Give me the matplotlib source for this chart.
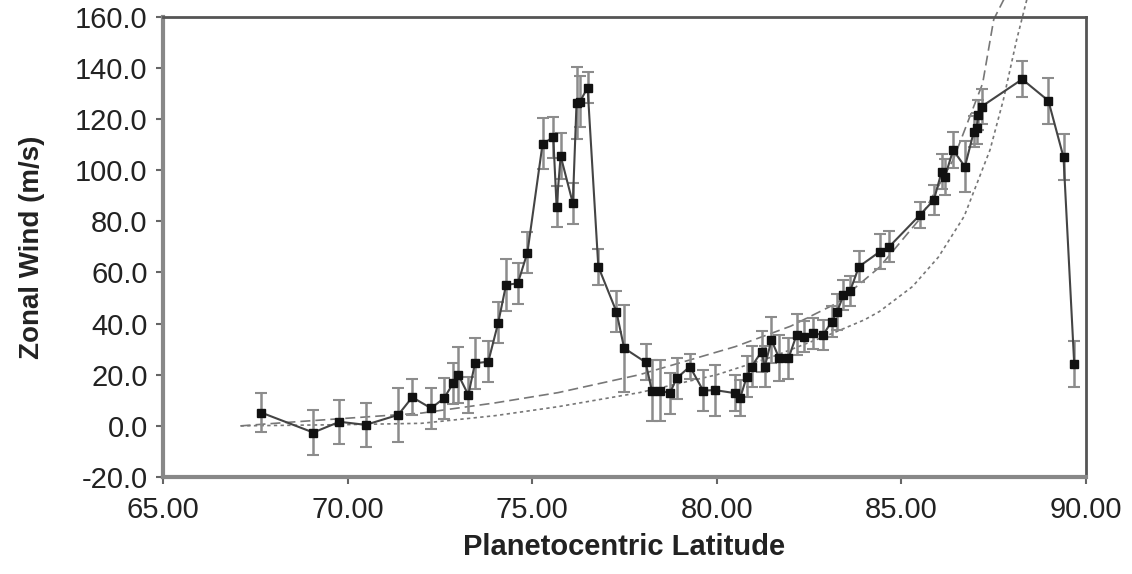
import numpy as np
import matplotlib.pyplot as plt

plt.rcParams['font.family'] = ['Liberation Sans', 'DejaVu Sans']

# measured zonal wind
lat = [67.66, 69.07, 69.78, 70.49, 71.37, 71.75, 72.26, 72.61, 72.86, 73.00,
       73.27, 73.45, 73.81, 74.08, 74.29, 74.61, 74.87, 75.28, 75.57, 75.66,
       75.77, 76.10, 76.20, 76.29, 76.50, 76.79, 77.28, 77.49, 78.07, 78.24,
       78.46, 78.73, 78.91, 79.27, 79.63, 79.95, 80.49, 80.63, 80.81, 80.94,
       81.21, 81.30, 81.48, 81.69, 81.94, 82.16, 82.36, 82.61, 82.88, 83.11,
       83.26, 83.43, 83.61, 83.85, 84.42, 84.67, 85.50, 85.88, 86.09, 86.18,
       86.40, 86.72, 86.96, 87.04, 87.08, 87.17, 88.27, 88.98, 89.39, 89.68]
wind = [5.2, -2.6, 1.6, 0.4, 4.3, 11.2, 6.9, 10.8, 16.7, 19.9,
        12.1, 24.5, 25.1, 40.4, 55.1, 55.8, 67.8, 110.3, 112.9, 85.8,
        105.6, 87.1, 126.2, 126.8, 132.3, 62.3, 44.7, 30.4, 24.9, 13.8,
        13.8, 12.8, 18.6, 23.2, 13.8, 14.0, 12.8, 10.8, 19.2, 23.2,
        29.0, 23.2, 33.6, 26.4, 26.4, 35.6, 34.9, 36.2, 35.6, 40.8,
        44.7, 51.2, 52.8, 62.3, 68.2, 70.1, 82.5, 88.4, 99.5, 97.5,
        107.9, 101.4, 115.1, 116.4, 121.6, 124.9, 135.6, 127.2, 105.1, 24.2]
err = [7.5, 8.8, 8.5, 8.5, 10.7, 7, 8, 8, 8, 11,
       7, 10, 8, 8, 10, 8, 8, 10, 8, 8,
       9, 8, 14, 10, 6, 7, 8, 17, 7, 12,
       12, 8, 8, 5, 8, 10, 7, 7, 8, 8,
       8, 8, 9, 9, 8, 8, 6, 6, 6, 6,
       7, 6, 6, 6, 7, 6, 5, 6, 7, 7,
       7, 10, 6, 6, 6, 7, 7, 9, 9, 9]

# model curves
dash_lat = [67.1, 68.5, 70.0, 72.0, 74.0, 75.7, 77.9, 79.2, 80.5, 82.0,
            83.25, 84.4, 85.5, 86.4, 87.2, 87.5, 87.78]
dash_val = [0, 1.5, 3, 5, 9, 13, 20, 25.5, 31, 39,
            48, 62, 81, 104, 134, 159, 167]
dot_lat = [67.1, 70.0, 72.0, 74.0, 75.7, 77.9, 80.0, 81.5, 83.1, 84.0,
           84.4, 85.3, 86.0, 86.7, 87.4, 87.76, 88.12, 88.4]
dot_val = [0, 0.5, 1.0, 4, 7.5, 13, 20, 27, 36, 41.5,
           44.7, 54.5, 66, 82, 108, 127.5, 151, 167]

fig = plt.figure(figsize=(11.32, 5.74), dpi=100)
ax = fig.add_axes([0.144, 0.169, 0.8154, 0.8016])

ax.plot(dash_lat, dash_val, color='#777777', lw=1.2, ls=(0, (6, 3)), clip_on=False, zorder=2)
ax.plot(dot_lat, dot_val, color='#777777', lw=1.2, ls=(0, (2, 2)), clip_on=False, zorder=2)

ax.errorbar(lat, wind, yerr=err, fmt='none', ecolor='#8c8c8c', elinewidth=1.8,
            capsize=4.5, capthick=1.5, zorder=3)
ax.plot(lat, wind, '-', color='#444444', lw=1.5, zorder=4)
ax.plot(lat, wind, 's', color='#111111', ms=5.5, zorder=5)

ax.set_xlim(65, 90)
ax.set_ylim(-20, 160)
ax.set_xticks(np.arange(65, 91, 5))
ax.set_yticks(np.arange(-20, 161, 20))
ax.xaxis.set_major_formatter(plt.FormatStrFormatter('%.2f'))
ax.yaxis.set_major_formatter(plt.FormatStrFormatter('%.1f'))
ax.tick_params(direction='out', length=5, width=1.5, color='#666666',
               labelsize=21, labelcolor='#222222')
ax.tick_params(axis='x', pad=9)
ax.tick_params(axis='y', pad=6)

for s in ['top', 'right']:
    ax.spines[s].set_color('#555555')
    ax.spines[s].set_linewidth(2)
for s in ['left', 'bottom']:
    ax.spines[s].set_color('#888888')
    ax.spines[s].set_linewidth(3)

ax.set_xlabel('Planetocentric Latitude', fontsize=21, fontweight='bold', color='#222222', labelpad=6)
ax.set_ylabel('Zonal Wind (m/s)', fontsize=20, fontweight='bold', color='#222222', labelpad=22)

fig.savefig('out.png', dpi=100)
